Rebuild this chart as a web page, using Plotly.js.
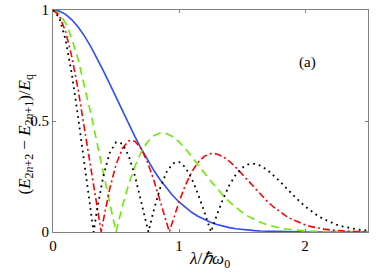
<!DOCTYPE html>
<html>
<head>
<meta charset="utf-8">
<script src="https://cdn.plot.ly/plotly-3.0.1.min.js"></script>
<style>html,body{margin:0;padding:0;background:#fff;}#chart{width:382px;height:275px;}</style>
</head>
<body>
<div id="chart"></div>
<script>
// lambda grid (lambda / hbar omega0)
var xGrid = [0,0.05,0.1,0.15,0.2,0.25,0.3,0.35,0.4,0.45,0.5,0.55,0.6,0.65,0.7,0.75,0.8,0.85,0.9,0.95,1.0,1.05,1.1,1.15,1.2,1.25,1.3,1.35,1.4,1.45,1.5,1.55,1.6,1.65,1.7,1.75,1.8,1.85,1.9,1.95,2.0,2.05,2.1,2.15,2.2,2.25,2.3,2.35,2.4,2.45,2.5];
// n = 0 (blue, solid)
var yBlue = [1,0.9950,0.9802,0.9560,0.9231,0.8825,0.8353,0.7827,0.7261,0.6670,0.6065,0.5461,0.4868,0.4296,0.3753,0.3247,0.2780,0.2357,0.1979,0.1645,0.1353,0.1103,0.0889,0.0710,0.0561,0.0439,0.0341,0.0261,0.0198,0.0149,0.0111,0.0082,0.0060,0.0043,0.0031,0.0022,0.0015,0.0011,0.0007,0.0005,0.0003,0.0002,0.0001,0.0001,0.0001,0,0,0,0,0,0];
// n = 1 (green, dashed)
var yGreen = [1,0.9851,0.9410,0.8700,0.7754,0.6619,0.5346,0.3992,0.2614,0.1267,0,0.1147,0.2142,0.2964,0.3603,0.4058,0.4337,0.4455,0.4433,0.4293,0.4060,0.3760,0.3415,0.3046,0.2672,0.2307,0.1961,0.1643,0.1357,0.1106,0.0889,0.0705,0.0552,0.0427,0.0326,0.0246,0.0183,0.0135,0.0098,0.0071,0.0050,0.0035,0.0025,0.0017,0.0011,0.0008,0.0005,0.0003,0.0002,0.0001,0.0001];
// n = 2 (red, dash-dot)
var xRed = [0,0.05,0.1,0.15,0.2,0.25,0.3,0.35,0.3827,0.4,0.45,0.5,0.55,0.6,0.65,0.7,0.75,0.8,0.85,0.9,0.9239,0.95,1.0,1.05,1.1,1.15,1.2,1.25,1.3,1.35,1.4,1.45,1.5,1.55,1.6,1.65,1.7,1.75,1.8,1.85,1.9,1.95,2.0,2.05,2.1,2.15,2.2,2.25,2.3,2.35,2.4,2.45,2.5];
var yRed = [1,0.9752,0.9026,0.7878,0.6395,0.4688,0.2880,0.1096,0,0.0546,0.1947,0.3033,0.3757,0.4104,0.4089,0.3750,0.3145,0.2344,0.1424,0.0458,0,0.0487,0.1353,0.2099,0.2697,0.3133,0.3406,0.3529,0.3517,0.3394,0.3185,0.2916,0.2611,0.2289,0.1969,0.1663,0.1381,0.1127,0.0906,0.0717,0.0559,0.0430,0.0325,0.0243,0.0179,0.0130,0.0093,0.0066,0.0046,0.0032,0.0022,0.0015,0.0010];
// n = 3 (black, dotted)
var xBlack = [0,0.05,0.1,0.15,0.2,0.25,0.3,0.3224,0.35,0.4,0.45,0.5,0.55,0.6,0.65,0.7,0.75,0.7573,0.8,0.85,0.9,0.95,1.0,1.05,1.1,1.15,1.2,1.25,1.254,1.3,1.35,1.4,1.45,1.5,1.55,1.6,1.65,1.7,1.75,1.8,1.85,1.9,1.95,2.0,2.05,2.1,2.15,2.2,2.25,2.3,2.35,2.4,2.45,2.5];
var yBlack = [1,0.9653,0.8649,0.7094,0.5148,0.3011,0.0891,0,0.1013,0.2536,0.3565,0.4044,0.3982,0.3443,0.2536,0.1398,0.0178,0,0.0985,0.1969,0.2687,0.3087,0.3158,0.2919,0.2420,0.1728,0.0918,0.0068,0,0.0756,0.1495,0.2111,0.2577,0.2889,0.3048,0.3071,0.2981,0.2802,0.2560,0.2282,0.1987,0.1694,0.1415,0.1158,0.0935,0.0738,0.0574,0.0439,0.0332,0.0247,0.0180,0.0130,0.0092,0.0065];

var xTicks = [0,1,2];
var xTickText = ['0','1','2'];
var yTicks = [0,0.5,1];
var yTickText = ['0','0.5','1'];
var xTitle = '<i>λ</i>/<i>ℏω</i><sub>0</sub>';
var yTitle = '(<i>E</i><sub>2<i>n</i>+2</sub> − <i>E</i><sub>2<i>n</i>+1</sub>)/<i>E</i><sub>q</sub>';
var panelLabel = '(a)';

var serif = 'Liberation Serif';
var traces = [
  {x: xGrid, y: yBlue, mode: 'lines', line: {color: '#2f4bff', width: 1.6}},
  {x: xGrid, y: yGreen, mode: 'lines', line: {color: '#66ee00', width: 1.6, dash: '8px,5px'}},
  {x: xRed, y: yRed, mode: 'lines', line: {color: '#ff0000', width: 1.6, dash: '7px,3px,2px,3px'}},
  {x: xBlack, y: yBlack, mode: 'lines', line: {color: '#000000', width: 1.8, dash: '1.8px,4px'}}
];
var axisCommon = {
  showgrid: false, zeroline: false, showline: true, linecolor: '#808080', linewidth: 1,
  mirror: 'allticks', ticks: 'inside', ticklen: 3, tickcolor: '#808080',
  tickfont: {family: serif, size: 15, color: '#000'}
};
var layout = {
  width: 382, height: 275,
  margin: {l: 53, r: 14, t: 10, b: 43},
  paper_bgcolor: '#fff', plot_bgcolor: '#fff',
  showlegend: false,
  font: {family: serif},
  xaxis: Object.assign({}, axisCommon, {
    range: [0, 2.5], tickvals: xTicks, ticktext: xTickText
  }),
  yaxis: Object.assign({}, axisCommon, {
    range: [0, 1], tickvals: yTicks, ticktext: yTickText
  }),
  annotations: [
    {xref: 'paper', yref: 'paper', x: 0.84, y: 0.81, showarrow: false,
     text: panelLabel, font: {family: serif, size: 15, color: '#000'}},
    {xref: 'paper', yref: 'paper', x: 0.498, y: -0.125, yanchor: 'middle', xanchor: 'center', showarrow: false,
     text: xTitle, font: {family: serif, size: 17, color: '#000'}},
    {xref: 'paper', yref: 'paper', x: -0.085, y: 0.44, yanchor: 'middle', xanchor: 'center', showarrow: false,
     textangle: -90, text: yTitle, font: {family: serif, size: 17, color: '#000'}}
  ]
};
Plotly.newPlot('chart', traces, layout, {displayModeBar: false, staticPlot: true});
</script>
</body>
</html>
